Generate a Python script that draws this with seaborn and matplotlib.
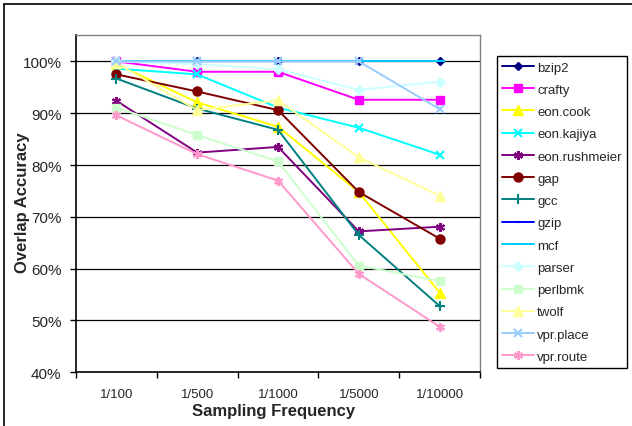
import matplotlib
matplotlib.use("Agg")
import matplotlib.pyplot as plt
from matplotlib.lines import Line2D
import seaborn as sns
import pandas as pd

freq_labels = ["1/100", "1/500", "1/1000", "1/5000", "1/10000"]

bzip2 = [100.0, 100.0, 100.0, 100.0, 100.0]
crafty = [100.0, 98.0, 98.0, 92.6, 92.6]
eon_cook = [99.5, 92.1, 87.4, 74.8, 55.4]
eon_kajiya = [98.6, 97.5, 91.1, 87.2, 82.0]
eon_rushmeier = [92.4, 82.4, 83.5, 67.2, 68.1]
gap = [97.5, 94.2, 90.6, 74.8, 65.8]
gcc = [96.7, 90.9, 86.8, 66.5, 52.8]
gzip = [100.0, 100.0, 100.0, 100.0, 100.0]
mcf = [100.0, 100.0, 100.0, 100.0, 100.0]
parser = [100.0, 99.5, 98.5, 94.5, 96.1]
perlbmk = [91.1, 85.8, 80.7, 60.6, 57.6]
twolf = [99.7, 90.6, 92.5, 81.5, 74.1]
vpr_place = [100.0, 100.0, 100.0, 100.0, 90.8]
vpr_route = [89.6, 82.1, 77.0, 59.0, 48.8]

series_names = ["bzip2", "crafty", "eon.cook", "eon.kajiya", "eon.rushmeier", "gap", "gcc",
                "gzip", "mcf", "parser", "perlbmk", "twolf", "vpr.place", "vpr.route"]
series_values = [bzip2, crafty, eon_cook, eon_kajiya, eon_rushmeier, gap, gcc,
                 gzip, mcf, parser, perlbmk, twolf, vpr_place, vpr_route]

colors = ["#000080", "#FF00FF", "#FFFF00", "#00FFFF", "#800080", "#800000", "#008080",
          "#0000FF", "#00CCFF", "#CCFFFF", "#CCFFCC", "#FFFF99", "#99CCFF", "#FF99CC"]
markers = ["D", "s", "^", "x", (6, 2, 0), "o", "+", "_", "_", "D", "s", "^", "x", (6, 2, 0)]
msizes = [4.5, 6, 6.5, 6, 6.5, 6.5, 7, 4, 7, 5, 6, 6.5, 6, 6.5]

rows = []
for name, vals in zip(series_names, series_values):
    for i, v in enumerate(vals):
        rows.append({"bench": name, "pos": i, "acc": v})
df = pd.DataFrame(rows)

sns.set_theme(style="white")
plt.rcParams["font.family"] = ["Liberation Sans", "DejaVu Sans"]

fig = plt.figure(figsize=(6.32, 4.27), dpi=100)
ax_bottom_px = 373.3
ax_top_px = 36
ax = fig.add_axes([76 / 632, 1 - ax_bottom_px / 427, (480 - 76) / 632, (ax_bottom_px - ax_top_px) / 427])

for yv in [50, 60, 70, 80, 90, 100]:
    ax.axhline(yv, color="black", lw=0.9, zorder=1)

handles = []
for name, col, mk, ms in zip(series_names, colors, markers, msizes):
    sub = df[df["bench"] == name]
    mew = 1.5 if mk in ("x", "+", "_") or isinstance(mk, tuple) else 1.0
    sns.lineplot(data=sub, x="pos", y="acc", ax=ax, color=col, marker=mk, markersize=ms,
                 markeredgecolor=col, markerfacecolor=col, markeredgewidth=mew,
                 linewidth=1.4, zorder=3, legend=False)
    handles.append(Line2D([0], [0], color=col, marker=mk, markersize=ms, lw=1.4,
                          markeredgecolor=col, markerfacecolor=col, markeredgewidth=mew))

ax.set_xlim(-0.5, 4.5)
ax.set_ylim(40, 105.1)
ax.set_yticks([40, 50, 60, 70, 80, 90, 100])
ax.set_yticklabels([f"{v}%" for v in [40, 50, 60, 70, 80, 90, 100]], fontsize=11)
ax.set_xticks(range(5))
ax.set_xticklabels(freq_labels, fontsize=9.5)
ax.set_xticks([-0.5, 0.5, 1.5, 2.5, 3.5, 4.5], minor=True)
ax.tick_params(axis="x", which="major", length=0, pad=11)
ax.tick_params(axis="x", which="minor", length=4, width=1, color="black", direction="out", bottom=True)
ax.tick_params(axis="y", length=4, width=1, color="black", direction="out", left=True, pad=6.5)

ax.set_xlabel("Sampling Frequency", fontsize=12, fontweight="bold")
ax.set_ylabel("Overlap Accuracy", fontsize=12, fontweight="bold")
ax.xaxis.set_label_coords(0.49, -(412 - ax_bottom_px) / (ax_bottom_px - ax_top_px))
ax.xaxis.label.set_va("center")
ax.yaxis.set_label_coords((22 - 76) / 404, 0.505)
ax.yaxis.label.set_va("center")

for side in ["left", "bottom"]:
    ax.spines[side].set_color("black")
    ax.spines[side].set_linewidth(1.2)
for side in ["top", "right"]:
    ax.spines[side].set_color("#808080")
    ax.spines[side].set_linewidth(1.0)

leg = fig.legend(handles, series_names, loc="upper left",
                 bbox_to_anchor=(497 / 632, 1 - 57 / 427), bbox_transform=fig.transFigure,
                 frameon=True, fancybox=False, edgecolor="black", fontsize=9.5,
                 handlelength=2.4, handletextpad=0.25, labelspacing=0.76,
                 borderpad=0.4, borderaxespad=0, framealpha=1)
leg.get_frame().set_linewidth(1.0)

# outer chart border (left and top visible)
fig.add_artist(Line2D([4 / 632, 4 / 632], [0, 1 - 5 / 427], color="black", lw=1.2,
                      transform=fig.transFigure))
fig.add_artist(Line2D([4 / 632, 1], [1 - 5 / 427, 1 - 5 / 427], color="black", lw=1.2,
                      transform=fig.transFigure))

fig.savefig("out.png", dpi=100)
